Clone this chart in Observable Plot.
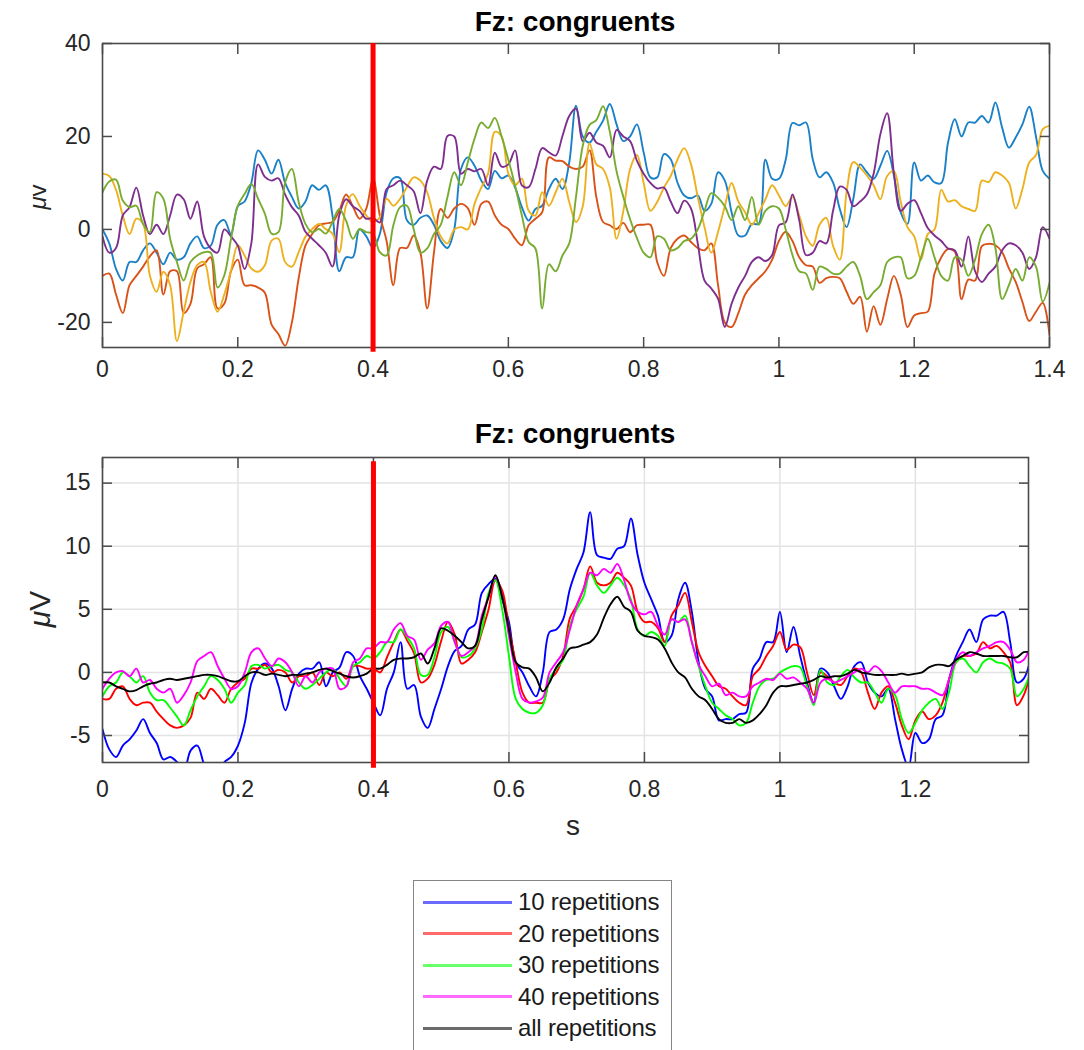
<!DOCTYPE html>
<html><head><meta charset="utf-8">
<script src="https://cdn.jsdelivr.net/npm/d3@7"></script>
<script src="https://cdn.jsdelivr.net/npm/@observablehq/plot@0.6"></script>
<style>
body{margin:0;background:#fff;}
#root{position:relative;width:1084px;height:1050px;overflow:hidden;font-family:"Liberation Sans",Arial,sans-serif;background:#fff;}
.title{position:absolute;font-weight:bold;font-size:28px;line-height:28px;color:#000;transform:translateX(-50%);white-space:nowrap;}
.ylab{position:absolute;transform:translate(-50%,-50%) rotate(-90deg);white-space:nowrap;color:#262626;}
</style></head><body><div id="root"></div>
<script>
// ---------- data (sampled every 0.01 s) ----------
const sampleStep = 0.01;
const stimulusOnset = [0.4];

// top panel, t = 0.00 ... 1.40
const topBlue = [
 0,-3,-8.5,-11,-7,-7,-4.5,-3,-5,-7.5,
 -5,-6.5,-6,-3,-1.5,-4,-3.5,1,2,-1,
 5,6,10,17,15,12,15,10,7,4.5,
 6,9.5,8.5,9.5,3,-9,-6,-6,0,-1.5,
 -4,-1,8,11,11,2,1,2.5,3,1,
 -2.5,-4,0,13,15.5,13.7,10.5,8.7,12.6,11,
 11.6,9,4.8,1.9,4.4,5.1,8.7,10.9,8.7,14.4,
 26.6,20,18.7,21,23.4,27,22.6,19,20,22.6,
 16.6,11.2,11.2,16.2,15.1,10.1,7.3,6.7,7.3,4,
 5.5,12.3,10.5,3.7,-1.3,-1.3,1.2,1.2,15,10.9,
 10.9,15,22.9,22.4,23,15.1,11.2,12.3,10.1,4.4,
 0.5,6.6,14,12.3,10.9,13.7,16.9,11.6,3.7,1.2,
 14.4,10.5,11.6,10.1,10,18.7,23.7,20,23,23,
 24.4,23,27.3,21.9,17.6,19.8,22.6,26.4,20,12.6,
 10.9];
const topOrange = [
 -10,-9.5,-14,-18,-12,-10,-8,-5.8,-4.5,-14,
 -9,-9,-18,-16,-8.4,-7.5,-6,-17,-16,-9,
 -6.5,-12,-12,-12.5,-13.6,-20.5,-22.5,-25,-20,-10.5,
 -3.5,-1,0.9,1.3,1.6,4,7.5,5,2.3,4.5,
 11,3,-2.5,-12,-4,-4,-1.3,-5,-17,-5,
 4.4,2.5,4.5,5.5,4.6,1,5.5,6,3,1,
 0.1,-2,-3.4,0.9,2.3,3.7,15.5,14.8,14.7,13.5,
 13,13.5,17,7,1.6,0.9,0.1,1.4,-0.6,0.9,
 1,1,-7,-10,-4,-2,-1.3,-2.7,-4,-4.5,
 -3,-12,-20,-21,-18,-14,-12,-10.5,-9,-6.5,
 -2.5,-0.5,-2.5,-6,-7.7,-8,-11.5,-10.5,-10.2,-10.5,
 -13.4,-16,-14.5,-22,-16.5,-20.5,-15,-10,-14,-21,
 -18.5,-18,-17.7,-9.5,-6,-4.2,-4.8,-15,-10.8,-11,
 -3.6,-3.1,-3.4,-4.9,-8.4,-11.3,-15.6,-19.7,-17.7,-15.8,
 -22.7];
const topYellow = [
 12,11.5,8.5,3,-1,2.3,1.2,-9.9,-13.4,-9.1,
 -12,-24,-17.7,-11.3,-7.7,-7,-13.4,-17.7,-14,-8.8,
 -3.4,-5.6,-8.4,-9.1,-7.7,-2.4,-2,-7,-8,-4.9,
 -1.6,0.1,1.2,0.1,-0.9,-4.9,5.1,7.6,5.1,3,
 1.6,2.6,6.6,5.1,6.6,9.1,11.2,10.5,8,2.5,
 -1.5,-3,0,0.5,0,5.5,9,12,21,20,
 12,9.5,10.9,4,3,8,5.1,8,10.9,5.9,
 1.6,5,18.5,14,13,9,-2,4,13,16,
 10,4,5.9,9,11.5,15,17.5,14,7,0.5,
 -5,-0.5,5,10,6,3.7,1,3.5,6.5,9.5,
 7.3,5,7,3,-1.5,-3.5,1,2.5,-3.5,-6.5,
 8,14.5,13.3,11.6,9.5,6.5,11.5,12.5,6,0.5,
 -1.5,-6.5,-1,0,8.5,6,6.3,5,4.4,4,
 10.5,10.2,12.3,11.6,10,4.5,8.7,14.4,16,21.6,
 22.3];
const topPurple = [
 -1.5,-5,-4,3,4.8,9,3,-1,1,-1,
 3,7.5,6.5,2.3,6,-1.5,-4.1,-5,0,-1.5,
 -3.5,-8.5,-3,14,11.3,10.5,11,7.5,4.8,3,
 -0.5,-2,-3.4,-5,-8,3,6.5,5,4,2.3,
 2.5,1.5,8.7,9.5,10.5,9.5,8.2,3.5,10.5,13.5,
 13,20.1,20,12,13,12.5,13,9.5,16.5,13.5,
 14,17,9.5,9.1,13,17.5,16.6,15.9,20.1,24.4,
 26,19,20.8,18.7,18,15.5,21.4,20,19,14.8,
 12,10,8.8,9,6,3.5,6.2,4.5,-3,-11,
 -12.7,-14.9,-21,-16,-12.5,-10,-7,-6,-6.8,-5.5,
 0.9,1.5,7.5,2,-5.5,-5,-2.5,-3,4,9.2,
 8.5,5,6,7.5,12,20.5,25,12,4,5.5,
 6.3,3.5,0.3,-1.3,-2.5,-4.1,-4.5,-8,-1.5,-9,
 -11.3,-9.5,-8,-4.5,-3,-3.4,-5,-8.5,-6,0.5,
 -2];
const topGreen = [
 8,10.3,10.7,6.2,4.8,5.1,1.2,-0.6,8,6.6,
 -2,-7,-11,-7,-5.6,-4.9,-5,-12.5,-9.9,-2,
 5.1,7.6,9.8,6.6,3.4,-0.9,-0.6,10.1,13,5.9,
 1.2,-0.6,0.1,-0.9,1.6,4.4,1.9,-2,0.1,-0.6,
 -0.9,-4.9,-5.6,0.9,4.8,5.1,0.1,-5,-4.1,-1,
 1,7,12.3,9.5,14.4,19.5,23,21.8,24,20,
 15,9.4,3,-2.7,-4.1,-17,-7.5,-9,-5.6,-3,
 7,18,22.5,23.5,26.5,21,12.5,7,2.2,-1.8,
 -5,-6,-1.5,-2,-4.5,-4,-2.5,-2,0,4,
 7.8,6.8,5,2,5,2,7,1,4,5,
 4.5,0,-5.5,-9,-9.5,-13,-8,-8.5,-9.5,-9.5,
 -8,-7,-10,-15,-13.5,-12,-7,-6,-6,-10.5,
 -10,-6,-2,-6,-10,-11,-6,-6.5,-10,-6.5,
 -1,1,-4,-15,-12,-8.5,-11,-6,-8,-15.5,
 -11.5];

// bottom panel, t = 0.00 ... 1.37
const bot10 = [
 -4.5,-6.1,-6.7,-5.8,-5.3,-4.6,-3.7,-4.8,-5.6,-6.9,
 -6.7,-7.1,-7.9,-6.2,-5.8,-7.3,-8.2,-8.2,-7.1,-6.7,
 -5.8,-4,-0.8,0.3,0.7,0.3,-1.1,-3,-1.3,-0.1,
 0.3,0.3,0.8,-1.1,0,0.4,1.6,1.3,-0.3,-1.3,
 -2.4,-3.4,-1.3,0,2.4,-1.3,-1,-3.5,-4.4,-2.9,
 -1.3,0.5,1.7,2.1,3.4,3.8,6.3,7,7.4,5.8,
 4,0.8,0,-1.1,-1.9,0,3.2,3.4,4.2,6.6,
 8.2,9.5,12.7,9.3,9.1,9,9.8,10,12.2,9.3,
 7.1,5.8,4.5,2.4,2.9,5.8,7.1,4.8,0.8,-1.3,
 -1.9,-3.8,-3.7,-3.7,-3.3,-3.2,0.3,1.1,2.4,2.4,
 4.8,1.6,3.6,1.3,-0.8,-2.4,0.3,0,-1.1,-2.1,
 -1.1,0.5,0.8,-0.8,-1.6,-1.9,-1.3,-3.7,-6.1,-7.5,
 -4.8,-5.6,-5.3,-3.7,-3.4,-0.5,1.3,2.4,3.4,2.4,
 4.2,4.5,4.5,4.8,2.4,-0.8,-0.5,1.1];
const bot20 = [
 -2.1,-2.1,-1.3,-1.1,-2.1,-2.6,-2.4,-2.4,-3.1,-3.7,
 -4.2,-4.4,-4.2,-3.6,-1.6,-2.1,-1.3,-1.8,-2.4,-1.3,
 -0.8,-0.5,0.3,0.3,0.6,0,0.2,0,-0.8,-0.3,
 -0.3,0,-1,0,-0.3,0,-0.5,0.5,0.5,0.3,
 0.3,0,1.2,2.4,3.4,2.5,1.5,-0.8,-0.5,0.6,
 2.5,4,3,0.7,1,1.6,3.2,5,7.3,6.5,
 3.5,0.8,-1.6,-2.4,-2.4,-2.4,-0.6,0,1.3,4.3,
 5.3,6.6,8.4,7.1,6.9,7.1,7.9,7.5,6.9,4.8,
 4,4,3.5,2.4,4.5,5.3,6.3,4,1.6,0.5,
 -0.3,-1.1,-1.3,-1.9,-2.4,-2.6,-0.3,0.3,1.3,2.1,
 3.2,1.8,2.2,2,0,-1.8,0,-0.3,-0.8,-1,
 -0.3,0.3,0,-1.6,-2.9,-1.6,-1.1,-2.4,-4.2,-5.3,
 -3.8,-3.1,-3.7,-3.4,-2.4,-0.5,0.8,1.3,1.3,1.5,
 2.4,1.9,2.1,1.6,0.8,-2.6,-1.8,0];
const bot30 = [
 -1.9,-1.1,-0.8,0,-0.3,-0.8,-0.3,-1.6,-2.2,-2.2,
 -2.8,-3.5,-4.2,-3,-1.9,-1.1,-0.3,-0.6,-1.3,-2.4,
 -1.6,-1,0.5,0.6,0.3,0.5,0.6,0.2,0,-0.8,
 -1.3,-1,-0.5,0,0.3,-0.5,-1.1,0.5,0.8,1.3,
 1.1,1.6,2.4,2.4,3.4,2.8,1.9,-0.2,-0.2,1.2,
 3.2,3.6,2.4,1.2,1.3,1.9,3.4,6.3,7.3,5,
 1.3,-2.1,-2.9,-3.2,-3.2,-2.6,-0.5,0.3,1,3.7,
 5,6,7.9,6.9,6.3,6.9,7.5,6.9,5.8,3.4,
 2.9,3.2,2.9,2.1,4.2,4,4.5,2.4,0.5,-1.1,
 -2.4,-2.9,-3.4,-3.7,-4.2,-4,-2.4,-1.1,-0.6,-0.5,
 0,0.3,0.5,0.4,-1.1,-2.6,0.2,-0.8,-1,-0.3,
 0.2,-0.4,-0.8,-0.8,-1.6,-2.4,-1.3,-1.8,-3.7,-4.8,
 -4,-3,-2.4,-2.1,-2.9,-1.5,0.8,1.1,0.5,0,
 0.8,1.1,0.8,0.7,0.3,-1.9,-1.3,0];
const bot40 = [
 -1.3,-0.5,0,0.1,-0.3,0.3,-0.8,-0.6,-1.3,-1.6,
 -1.3,-2.4,-1.8,-0.8,0.9,1.3,1.6,0.5,-0.5,-1.3,
 -1.1,0,1.6,1.9,1.1,0.5,1.1,0.8,0,-1.1,
 -0.3,-0.8,0,0.3,0.3,-1.3,-1.1,0.8,1.1,1.9,
 1.9,2.4,2.4,3.4,3.9,2.9,2.6,1,1.8,2.3,
 3.7,4,2.4,1.3,1.6,2.1,4.5,6,7.6,6,
 2.9,0,-2.1,-2.4,-2.3,-2,0,0.8,1.6,3.4,
 5.3,6.6,7.9,7.7,8.2,7.9,8.6,7.3,5.6,4.8,
 4.6,4.8,3.7,3,4.2,4,4.2,2.4,0.6,-0.3,
 -1.1,-0.9,-1.8,-1.6,-1.9,-1.9,-1.1,-0.8,-0.5,-0.6,
 -0.1,-0.5,-0.4,-0.8,-1.3,-2.4,-0.8,-0.5,-0.8,-0.6,
 -0.3,0,0.3,0,0.5,0.1,-0.8,-1.6,-1.1,-1.1,
 -1.1,-1.3,-1.3,-1.6,-1.8,-0.5,1,1.6,1.3,1.6,
 1.9,2.1,2.4,2.4,1.8,0.8,1,2.1];
const botAll = [
 -0.8,-0.8,-1.1,-1.3,-1.5,-1.4,-1.1,-0.9,-0.8,-0.6,
 -0.5,-0.6,-0.5,-0.4,-0.3,-0.2,-0.2,-0.3,-0.5,-0.7,
 -0.7,-0.3,0,0,-0.2,-0.1,-0.2,-0.3,-0.2,-0.2,
 -0.1,0,0.2,0.3,0.1,-0.1,-0.3,-0.4,-0.3,-0.1,
 0.3,0.3,0.6,1,1.1,1.1,1.2,1.5,0.7,1.9,
 3.5,3.3,2.9,2.4,1.9,2.1,4.2,6,7.7,6,
 3.4,0.8,0.4,0.3,-0.4,-1.5,-0.8,0.4,1.1,1.9,
 2,2.2,2.4,3,4.3,5.4,6,5.2,4.8,3.3,
 2.9,2.8,2.6,1.9,0.8,0,-0.4,-1.3,-1.9,-2.2,
 -2.9,-3.7,-4,-4,-3.7,-4,-3.8,-3.3,-2.6,-1.6,
 -1.1,-1.1,-1,-0.9,-0.8,-0.6,-0.3,-0.4,-0.3,-0.3,
 -0.1,0.2,0,-0.1,-0.2,-0.2,-0.2,-0.2,-0.1,-0.2,
 -0.1,0,0.4,0.6,0.6,0.5,1,1.3,1.6,1.5,
 1.3,1.3,1.3,1.3,1.2,1.2,1.6,1.6];

const topColors = ["#1a80c8", "#D95319", "#EDB120", "#7E2F8E", "#77AC30"];
const bottomNames = ["10 repetitions", "20 repetitions", "30 repetitions", "40 repetitions", "all repetitions"];
const bottomColors = ["#0000ff", "#ff0000", "#00ff00", "#ff00ff", "#000000"];
const legendSwatch = ["#6b6bff", "#ff6b6b", "#6bff6b", "#ff6bff", "#6b6b6b"];

const xTicksTop = [0, 0.2, 0.4, 0.6, 0.8, 1, 1.2, 1.4];
const yTicksTop = [-20, 0, 20, 40];
const xTicksBottom = [0, 0.2, 0.4, 0.6, 0.8, 1, 1.2];
const yTicksBottom = [-5, 0, 5, 10, 15];

const titleText = "Fz: congruents";

// ---------- drawing ----------
const root = document.getElementById("root");
const axisColor = "#4a4a4a";
const fmt = d => String(d);

function addDiv(html, cls, style) {
  const d = document.createElement("div");
  if (cls) d.className = cls;
  d.innerHTML = html;
  Object.assign(d.style, style);
  root.appendChild(d);
  return d;
}

function panel(cfg) {
  const marks = [];
  if (cfg.grid) {
    marks.push(Plot.gridX(cfg.xTicks, {stroke: "#e3e3e3", strokeOpacity: 1, strokeWidth: 1.5}));
    marks.push(Plot.gridY(cfg.yTicks, {stroke: "#e3e3e3", strokeOpacity: 1, strokeWidth: 1.5}));
  }
  cfg.series.forEach((vals, k) => {
    marks.push(Plot.line(vals, {
      x: (d, i) => i * sampleStep, y: d => d, curve: "catmull-rom",
      stroke: cfg.colors[k], strokeWidth: 1.9, strokeLinejoin: "round", clip: true
    }));
  });
  marks.push(Plot.frame({stroke: axisColor, strokeWidth: 1.6}));
  marks.push(Plot.axisX(cfg.xTicks, {anchor: "bottom", tickSize: -10, tickPadding: cfg.xPad, tickFormat: fmt, label: null, stroke: axisColor, strokeWidth: 1.5}));
  marks.push(Plot.axisX(cfg.xTicks, {anchor: "top", tickSize: -10, tickFormat: () => "", label: null, stroke: axisColor, strokeWidth: 1.5}));
  marks.push(Plot.axisY(cfg.yTicks, {anchor: "left", tickSize: -10, tickPadding: 22, tickFormat: fmt, label: null, stroke: axisColor, strokeWidth: 1.5}));
  marks.push(Plot.axisY(cfg.yTicks, {anchor: "right", tickSize: -10, tickFormat: () => "", label: null, stroke: axisColor, strokeWidth: 1.5}));
  marks.push(Plot.ruleX(stimulusOnset, {y1: cfg.ruleY[0], y2: cfg.ruleY[1], stroke: "#ff0000", strokeWidth: 5}));
  const svg = Plot.plot({
    width: 1084, height: cfg.height,
    marginLeft: 102, marginRight: cfg.marginRight, marginTop: cfg.marginTop, marginBottom: cfg.marginBottom,
    x: {domain: cfg.xDomain, label: null},
    y: {domain: cfg.yDomain, label: null},
    style: {fontFamily: "'Liberation Sans', Arial, sans-serif", fontSize: "23px", color: "#262626", background: "transparent", overflow: "visible"},
    marks
  });
  svg.style.position = "absolute";
  svg.style.left = "0px";
  svg.style.top = cfg.top + "px";
  root.appendChild(svg);
}

panel({
  top: 0, height: 400, marginTop: 43, marginBottom: 53, marginRight: 35,
  xDomain: [0, 1.4], yDomain: [-25.4, 40], xTicks: xTicksTop, yTicks: yTicksTop,
  series: [topBlue, topOrange, topYellow, topPurple, topGreen], colors: topColors,
  xPad: 23, grid: false, ruleY: [40, -26.4]
});
panel({
  top: 420, height: 430, marginTop: 37, marginBottom: 88, marginRight: 56,
  xDomain: [0, 1.367], yDomain: [-7.14, 17.03], xTicks: xTicksBottom, yTicks: yTicksBottom,
  series: [bot10, bot20, bot30, bot40, botAll], colors: bottomColors,
  xPad: 28, grid: true, ruleY: [16.7, -7.6]
});

// titles and axis labels
addDiv(titleText, "title", {left: "575px", top: "8px"});
addDiv(titleText, "title", {left: "575px", top: "420px"});
addDiv('<i>\u03bc</i>v', "ylab", {left: "38px", top: "197px", fontSize: "24px"});
addDiv('<i>\u03bc</i>V', "ylab", {left: "40px", top: "609px", fontSize: "30px"});
addDiv("s", null, {position: "absolute", left: "573px", top: "826px", transform: "translate(-50%,-50%)", fontSize: "28px", color: "#262626"});

// legend
const leg = addDiv("", null, {position: "absolute", left: "413px", top: "880px", width: "259px", height: "190px", border: "1.5px solid #858585", background: "#fff", boxSizing: "border-box"});
bottomNames.forEach((name, k) => {
  const cy = 21 + k * 31.6;
  const sw = document.createElement("div");
  Object.assign(sw.style, {position: "absolute", left: "9px", top: (cy - 1.5) + "px", width: "89px", height: "3px", background: legendSwatch[k]});
  leg.appendChild(sw);
  const tx = document.createElement("div");
  tx.textContent = name;
  Object.assign(tx.style, {position: "absolute", left: "104px", top: (cy - 14) + "px", height: "28px", lineHeight: "28px", fontSize: "24px", color: "#1a1a1a", whiteSpace: "nowrap", letterSpacing: "-0.2px"});
  leg.appendChild(tx);
});
</script></body></html>
